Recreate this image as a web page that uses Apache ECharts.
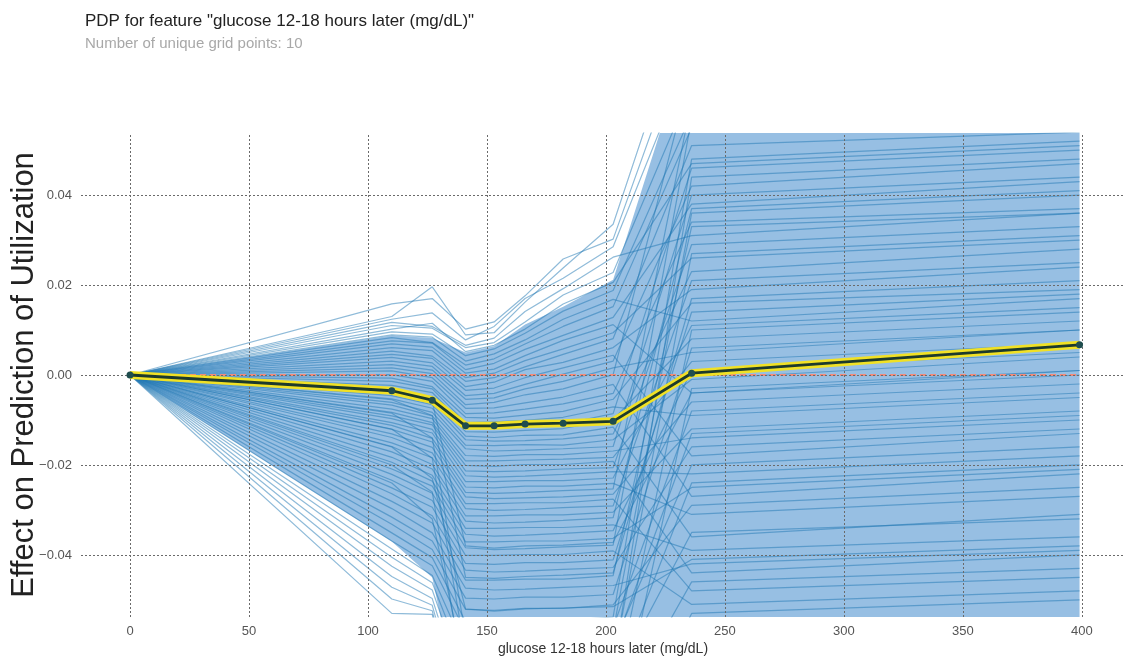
<!DOCTYPE html>
<html><head><meta charset="utf-8">
<script src="https://cdn.jsdelivr.net/npm/echarts@6/dist/echarts.min.js"></script>
<style>html,body{margin:0;padding:0;background:#fff;overflow:hidden}#c{width:1125px;height:657px}</style>
</head><body><div id="c"></div>
<script>
// grid points of the feature (x) and PDP (average) effect
const gridX = [0,110,127,141,153,166,182,203,236,399];
const pdpValues = [0,-0.0035,-0.0056,-0.0113,-0.0113,-0.0109,-0.0107,-0.0103,0.0004,0.0067];
const xTicks = [0,50,100,150,200,250,300,350,400];
const yTicks = [-0.04,-0.02,0,0.02,0.04];
// dense core of the ICE lines (envelope)
const bandUpper = [0,0.0088,0.0082,0.0050,0.0064,0.0112,0.0152,0.0212,0.076,0.081];
const bandLower = [0,-0.0370,-0.0450,-0.080,-0.080,-0.080,-0.080,-0.080,-0.080,-0.080];
// individual conditional expectation lines (values at gridX)
const iceLines = [
[0,0.0130,0.0196,0.0089,0.0094,0.0162,0.0238,0.0335,0.086,0.091],
[0,0.0158,0.0170,0.0102,0.0118,0.0176,0.0258,0.0302,0.079,0.083],
[0,0.0124,0.0138,0.0078,0.0108,0.0170,0.0215,0.0285,0.072,0.077],
[0,0.0117,0.0108,0.0066,0.0082,0.0141,0.0192,0.0262,0.031,0.036],
[0,0.0110,0.0104,0.0061,0.0072,0.0118,0.0178,0.0228,0.064,0.069],
[0,0.0102,0.0115,0.0052,0.0066,0.0102,0.0158,0.0206,0.047,0.051],
[0,0.0096,0.0091,0.0043,0.0058,0.0093,0.0142,0.0188,0.058,0.062],
[0,0.0089,0.0084,0.0031,0.0047,0.0078,0.0124,0.0168,0.012,0.017],
[0,0.0083,0.0072,0.0022,0.0036,0.0069,0.0108,0.0152,0.055,0.058],
[0,0.0076,0.0071,0.0012,0.0026,0.0057,0.0088,0.0128,0.038,0.043],
[0,0.0069,0.0062,0.0004,0.0013,0.0043,0.0077,0.0112,-0.004,0.001],
[0,0.0061,0.0054,-0.0006,0.0004,0.0032,0.0058,0.0094,0.026,0.030],
[0,0.0053,0.0042,-0.0014,-0.0006,0.0018,0.0046,0.0081,0.051,0.054],
[0,0.0046,0.0037,-0.0026,-0.0016,0.0012,0.0028,0.0061,0.019,0.024],
[0,0.0039,0.0027,-0.0034,-0.0029,-0.0006,0.0016,0.0044,-0.018,-0.013],
[0,0.0031,0.0019,-0.0046,-0.0041,-0.0021,0.0002,0.0031,0.042,0.047],
[0,0.0023,0.0011,-0.0054,-0.0051,-0.0031,-0.0014,0.0016,0.005,0.010],
[0,0.0016,0.0003,-0.0066,-0.0061,-0.0044,-0.0031,0.0001,0.068,0.071],
[0,0.0009,-0.0006,-0.0074,-0.0073,-0.0062,-0.0049,-0.0021,-0.027,-0.022],
[0,0.0001,-0.0014,-0.0086,-0.0084,-0.0076,-0.0064,-0.0041,0.034,0.037],
[0,-0.0007,-0.0026,-0.0094,-0.0096,-0.0089,-0.0081,-0.0054,0.016,0.019],
[0,-0.0014,-0.0031,-0.0106,-0.0104,-0.0101,-0.0094,-0.0071,-0.009,-0.005],
[0,-0.0023,-0.0039,-0.0114,-0.0119,-0.0111,-0.0109,-0.0086,0.046,0.050],
[0,-0.0029,-0.0049,-0.0126,-0.0127,-0.0123,-0.0119,-0.0099,0.008,0.012],
[0,-0.0037,-0.0057,-0.0136,-0.0139,-0.0134,-0.0133,-0.0116,-0.036,-0.031],
[0,-0.0046,-0.0066,-0.0144,-0.0147,-0.0146,-0.0142,-0.0131,0.023,0.028],
[0,-0.0053,-0.0074,-0.0156,-0.0157,-0.0155,-0.0156,-0.0144,-0.001,0.004],
[0,-0.0061,-0.0083,-0.0164,-0.0169,-0.0167,-0.0164,-0.0159,0.040,0.044],
[0,-0.0067,-0.0091,-0.0179,-0.0181,-0.0177,-0.0177,-0.0169,-0.014,-0.010],
[0,-0.0076,-0.0097,-0.0191,-0.0191,-0.0189,-0.0187,-0.0183,0.003,0.007],
[0,-0.0083,-0.0106,-0.0201,-0.0203,-0.0199,-0.0199,-0.0192,-0.044,-0.040],
[0,-0.0091,-0.0111,-0.0213,-0.0215,-0.0213,-0.0209,-0.0206,0.029,0.033],
[0,-0.0097,-0.0121,-0.0224,-0.0227,-0.0225,-0.0221,-0.0215,-0.022,-0.018],
[0,-0.0106,-0.0129,-0.0237,-0.0237,-0.0235,-0.0235,-0.0229,0.011,0.015],
[0,-0.0112,-0.0141,-0.0249,-0.0251,-0.0247,-0.0247,-0.0241,-0.031,-0.027],
[0,-0.0121,-0.0149,-0.0261,-0.0263,-0.0261,-0.0257,-0.0253,0.061,0.065],
[0,-0.0131,-0.0161,-0.0271,-0.0275,-0.0273,-0.0271,-0.0265,-0.006,-0.002],
[0,-0.0139,-0.0173,-0.0286,-0.0286,-0.0284,-0.0284,-0.0276,-0.048,-0.045],
[0,-0.0151,-0.0184,-0.0297,-0.0301,-0.0299,-0.0295,-0.0291,0.021,0.025],
[0,-0.0159,-0.0199,-0.0313,-0.0313,-0.0311,-0.0311,-0.0305,-0.012,-0.008],
[0,-0.0171,-0.0209,-0.0325,-0.0329,-0.0327,-0.0323,-0.0317,0.037,0.041],
[0,-0.0183,-0.0223,-0.0341,-0.0341,-0.0339,-0.0339,-0.0333,-0.039,-0.036],
[0,-0.0194,-0.0236,-0.0354,-0.0358,-0.0356,-0.0352,-0.0346,0.001,0.005],
[0,-0.0209,-0.0247,-0.0371,-0.0371,-0.0369,-0.0369,-0.0363,-0.025,-0.021],
[0,-0.0221,-0.0263,-0.0384,-0.0388,-0.0386,-0.0382,-0.0378,0.057,0.061],
[0,-0.0234,-0.0279,-0.0401,-0.0401,-0.0399,-0.0399,-0.0391,-0.051,-0.048],
[0,-0.0251,-0.0294,-0.0419,-0.0421,-0.0417,-0.0417,-0.0411,0.014,0.018],
[0,-0.0264,-0.0313,-0.0434,-0.0438,-0.0436,-0.0432,-0.0428,-0.016,-0.012],
[0,-0.0281,-0.0329,-0.0456,-0.0456,-0.0454,-0.0454,-0.0446,0.033,0.036],
[0,-0.0297,-0.0351,-0.0474,-0.0478,-0.0476,-0.0472,-0.0468,-0.042,-0.039],
[0,-0.0316,-0.0369,-0.0496,-0.0498,-0.0494,-0.0494,-0.0488,0.006,0.010],
[0,-0.0332,-0.0388,-0.0521,-0.0523,-0.0519,-0.0519,-0.0511,-0.029,-0.025],
[0,-0.0351,-0.0406,-0.0548,-0.0550,-0.0546,-0.0546,-0.0538,0.048,0.052],
[0,-0.0369,-0.0424,-0.0571,-0.0573,-0.0569,-0.0569,-0.0561,-0.008,-0.004],
[0,-0.0387,-0.0446,-0.0612,-0.0615,-0.0610,-0.0612,-0.0600,-0.020,-0.016],
[0,-0.0405,-0.0462,-0.0650,-0.0652,-0.0648,-0.0650,-0.0640,0.027,0.031],
[0,-0.0425,-0.0478,-0.0690,-0.0690,-0.0688,-0.0688,-0.0680,-0.035,-0.032],
[0,-0.0448,-0.0497,-0.0730,-0.0732,-0.0728,-0.0730,-0.0720,0.010,0.014],
[0,-0.0472,-0.0512,-0.0780,-0.0780,-0.0778,-0.0778,-0.0770,-0.046,-0.043],
[0,-0.0498,-0.0524,-0.0840,-0.0842,-0.0838,-0.0840,-0.0830,-0.003,0.001],
[0,-0.0530,-0.0532,-0.0900,-0.0900,-0.0898,-0.0898,-0.0890,-0.053,-0.050],
[0,-0.0120,-0.0185,-0.0620,-0.0622,-0.0618,-0.0620,-0.0610,-0.013,-0.009],
[0,-0.0085,-0.0140,-0.0580,-0.0578,-0.0575,-0.0575,-0.0570,0.036,0.040],
[0,-0.0200,-0.0260,-0.0700,-0.0702,-0.0698,-0.0700,-0.0690,-0.024,-0.020],
[0,-0.0055,-0.0090,-0.0450,-0.0452,-0.0448,-0.0445,-0.0440,0.017,0.021],
[0,-0.0160,-0.0230,-0.0520,-0.0525,-0.0520,-0.0518,-0.0515,-0.041,-0.038],
[0,-0.0240,-0.0320,-0.0660,-0.0660,-0.0658,-0.0660,-0.0650,0.044,0.048],
[0,-0.0030,-0.0060,-0.0380,-0.0385,-0.0380,-0.0378,-0.0372,-0.004,0.000]
];

const FONT = '"Liberation Sans", Arial, Helvetica, sans-serif';
const zip = arr => gridX.map((x, i) => [x, arr[i]]);

const series = [];
// grid lines (behind everything)
series.push({
  type: 'line', data: [], silent: true, z: 1,
  markLine: {
    silent: true, symbol: ['none', 'none'], animation: false,
    label: { show: false },
    lineStyle: { color: '#6a6a6a', type: [2, 2], width: 1 },
    emphasis: { disabled: true },
    data: xTicks.map(v => ({ xAxis: v })).concat(yTicks.map(v => ({ yAxis: v })))
  }
});
// dense core band of the ICE lines, drawn as polygon through the axes' scales
series.push({
  type: 'custom', silent: true, z: 2, clip: true,
  data: [[gridX[0], 0]],
  renderItem: (params, api) => {
    const up = gridX.map((x, i) => api.coord([x, bandUpper[i]]));
    const lo = gridX.map((x, i) => api.coord([x, bandLower[i]])).reverse();
    const cs = params.coordSys;
    return {
      type: 'group',
      clipPath: { type: 'rect', shape: { x: cs.x, y: cs.y, width: cs.width, height: cs.height } },
      children: [{ type: 'polygon', shape: { points: up.concat(lo) }, style: { fill: 'rgba(55,132,202,0.52)' } }]
    };
  }
});
// ICE lines
iceLines.forEach(line => {
  series.push({
    type: 'line', data: zip(line), symbol: 'none', silent: true, z: 3,
    lineStyle: { color: 'rgba(31,119,180,0.5)', width: 1.2 }
  });
});
// zero reference line
series.push({
  type: 'line', data: [[gridX[0], 0], [gridX[gridX.length - 1], 0]], symbol: 'none', silent: true, z: 4,
  lineStyle: { color: '#f08a7a', type: [6, 4], width: 2 }
});
// PDP line: yellow halo + dark core with markers
series.push({
  type: 'line', data: zip(pdpValues), symbol: 'none', silent: true, z: 5,
  lineStyle: { color: '#f1e125', width: 8 }
});
series.push({
  type: 'line', data: zip(pdpValues), symbol: 'circle', symbolSize: 7, silent: true, z: 6,
  lineStyle: { color: '#1d3a2c', width: 2.8 },
  itemStyle: { color: '#1f4d4e', borderWidth: 0 }
});

const chart = echarts.init(document.getElementById('c'), null, { renderer: 'canvas' });
chart.setOption({
  animation: false,
  backgroundColor: '#ffffff',
  textStyle: { fontFamily: FONT },
  title: {
    text: 'PDP for feature "glucose 12-18 hours later (mg/dL)"',
    subtext: 'Number of unique grid points: 10',
    left: 80, top: 8, itemGap: 6,
    textStyle: { fontFamily: FONT, fontSize: 17, fontWeight: 'normal', color: '#222' },
    subtextStyle: { fontFamily: FONT, fontSize: 15, color: '#a8a8a8' }
  },
  grid: { left: 81, right: 0, top: 133, bottom: 40, containLabel: false, outerBoundsMode: 'none' },
  xAxis: {
    type: 'value', min: -20.6, max: 418.1,
    axisLine: { show: false }, axisTick: { show: false }, splitLine: { show: false },
    axisLabel: { customValues: xTicks, color: '#555', fontSize: 13, margin: 8, fontFamily: FONT },
    name: 'glucose 12-18 hours later (mg/dL)', nameLocation: 'middle', nameGap: 25, nameMoveOverlap: false,
    nameTextStyle: { fontSize: 14, color: '#333', fontFamily: FONT }
  },
  yAxis: {
    type: 'value', min: -0.0538, max: 0.0538,
    axisLine: { show: false }, axisTick: { show: false }, splitLine: { show: false },
    axisLabel: {
      customValues: yTicks, color: '#555', fontSize: 13, margin: 9, fontFamily: FONT,
      formatter: v => v.toFixed(2).replace('-', '\u2212')
    },
    name: 'Effect on Prediction of Utilization', nameLocation: 'middle', nameGap: 41, nameMoveOverlap: false,
    nameTextStyle: { fontSize: 31, color: '#222', fontFamily: FONT }
  },
  series: series
});
</script>
</body></html>
